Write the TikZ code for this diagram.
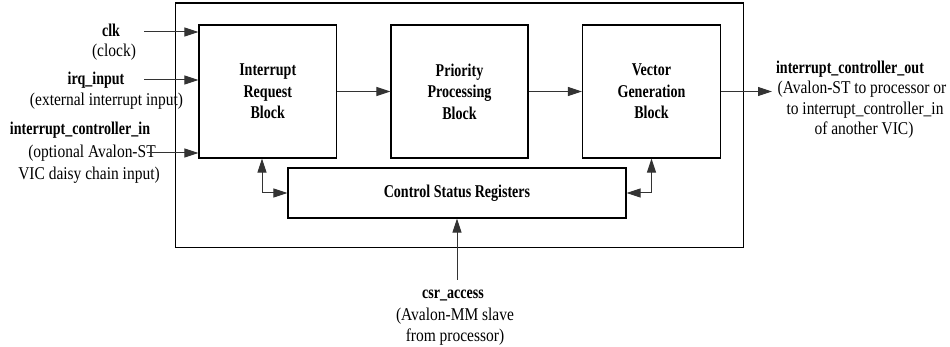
\documentclass[tikz,border=0pt]{standalone}
\usepackage{fontspec}
\setmainfont{Liberation Serif}[FakeStretch=0.86]
\newfontfamily\bfont{Liberation Serif}[FakeStretch=0.78]
\usetikzlibrary{arrows.meta}
\begin{document}
\begin{tikzpicture}[x=1pt,y=-1pt,
  >={Triangle[length=14pt,width=9pt]},
  blk/.style={draw, line width=1.1pt, minimum width=137.5pt, minimum height=133pt, align=center, inner sep=0pt,
    font=\bfont\bfseries\fontsize{18}{21.5}\selectfont},
  conn/.style={line width=1pt, draw=black!80, ->},
  dconn/.style={line width=1pt, draw=black!80, <->},
  lbl/.style={inner sep=0pt, font=\fontsize{18}{21.5}\selectfont},
  blbl/.style={inner sep=0pt, font=\bfont\bfseries\fontsize{18}{21.5}\selectfont}]
\useasboundingbox (0,0) rectangle (950,347);
% outer frame
\node[draw, line width=1.1pt, minimum width=568pt, minimum height=244.5pt, inner sep=0pt] (outer) at (459.5,125.25) {};
% blocks
\node[blk] (irb) at (267.75,91.5) {Interrupt\\Request\\Block};
\node[blk, minimum width=137pt] (ppb) at (459.5,91.5) {Priority\\Processing\\Block};
\node[blk, minimum width=138pt] (vgb) at (651.5,91.5) {Vector\\Generation\\Block};
\node[blk, minimum width=338pt, minimum height=50pt] (csr) at (457,193) {Control Status Registers};
% left labels
\node[blbl] (clk) at (111,30) {clk};
\node[lbl] (clock) at (114,52) {(clock)};
\node[blbl] (irq) at (96,80) {irq\_input};
\node[lbl] (ext) at (106.5,101) {(external interrupt input)};
\node[blbl] (icin) at (80,130) {interrupt\_controller\_in};
\node[lbl] (opt) at (92,153) {(optional Avalon-ST};
\node[lbl] (vic) at (89,175) {VIC daisy chain input)};
% right labels
\node[blbl] (icout) at (850,69) {interrupt\_controller\_out};
\node[lbl] (ava) at (862,89) {(Avalon-ST to processor or};
\node[lbl] (toi) at (865,110) {to interrupt\_controller\_in};
\node[lbl] (ano) at (864,130) {of another VIC)};
% bottom labels
\node[blbl] (csra) at (453,295) {csr\_access};
\node[lbl] (avmm) at (455,316) {(Avalon-MM slave};
\node[lbl] (fromp) at (455,337) {from processor)};
% free ends
\coordinate (clkS) at (144,32);
\coordinate (irqS) at (144,80);
\coordinate (icinS) at (147,153);
\coordinate (outE) at (772,91.5);
\coordinate (csrS) at (457,280);
\coordinate (lc) at (262,193);
% connectors
\draw[conn] (clkS) -- (clkS -| irb.west);
\draw[conn] (irqS) -- (irqS -| irb.west);
\draw[conn] (icinS) -- (icinS -| irb.west);
\draw[conn] (irb.east) -- (ppb.west);
\draw[conn] (ppb.east) -- (vgb.west);
\draw[conn] (vgb.east) -- (outE);
\draw[conn] (csrS) -- (csr.south);
\draw[dconn] (irb.south -| lc) -- (lc) -- (csr.west);
\draw[dconn] (vgb.south) -- (vgb.south |- csr.east) -- (csr.east);
\end{tikzpicture}
\end{document}
